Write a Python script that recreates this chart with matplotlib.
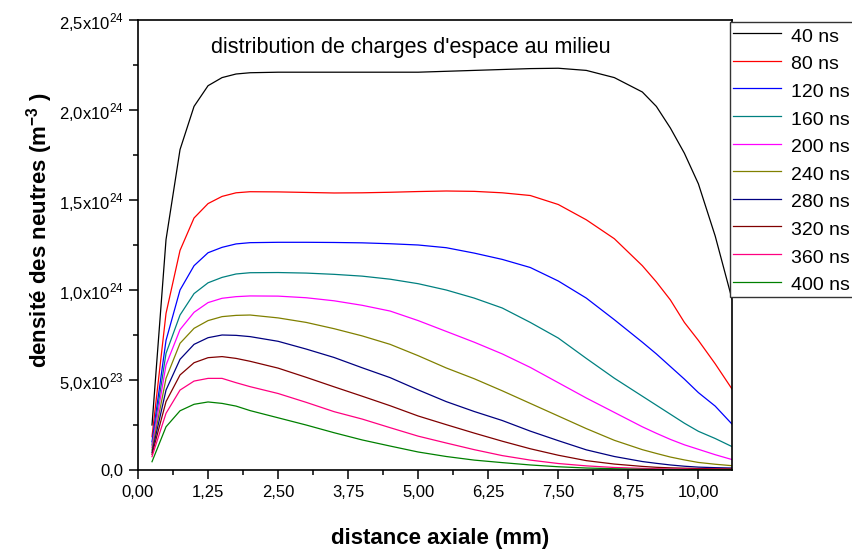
import numpy as np
import matplotlib
matplotlib.use("Agg")
import matplotlib.pyplot as plt
from matplotlib.ticker import MultipleLocator, FuncFormatter

# distance axiale (mm)
x_mm = [0.25, 0.5, 0.75, 1.0, 1.25, 1.5, 1.75, 2.0, 2.5, 3.0, 3.5, 4.0, 4.5,
        5.0, 5.5, 6.0, 6.5, 7.0, 7.5, 8.0, 8.5, 9.0, 9.25, 9.5, 9.75, 10.0, 10.3, 10.6]

# densité en unités de 1e24 m^-3
n_40 = [0.25, 1.28, 1.78, 2.02, 2.135, 2.18, 2.20, 2.207, 2.21, 2.21, 2.21, 2.21, 2.21,
        2.21, 2.215, 2.22, 2.225, 2.23, 2.232, 2.22, 2.18, 2.10, 2.02, 1.90, 1.76, 1.59, 1.30, 0.95]
n_80 = [0.185, 0.87, 1.22, 1.40, 1.48, 1.52, 1.54, 1.546, 1.545, 1.542, 1.539, 1.54, 1.543,
        1.547, 1.55, 1.548, 1.54, 1.525, 1.475, 1.39, 1.285, 1.135, 1.045, 0.945, 0.82, 0.72, 0.59, 0.45]
n_120 = [0.157, 0.72, 1.0, 1.135, 1.207, 1.237, 1.256, 1.263, 1.265, 1.265, 1.264, 1.262, 1.257,
         1.25, 1.235, 1.205, 1.17, 1.125, 1.05, 0.955, 0.835, 0.71, 0.645, 0.575, 0.505, 0.43, 0.355, 0.255]
n_160 = [0.139, 0.648, 0.861, 0.98, 1.04, 1.07, 1.089, 1.096, 1.097, 1.094, 1.087, 1.077, 1.06,
         1.035, 1.0, 0.955, 0.9, 0.82, 0.733, 0.62, 0.51, 0.41, 0.36, 0.31, 0.26, 0.215, 0.175, 0.13]
n_200 = [0.126, 0.583, 0.78, 0.876, 0.93, 0.954, 0.963, 0.967, 0.966, 0.957, 0.94, 0.915, 0.883,
         0.83, 0.77, 0.71, 0.645, 0.57, 0.485, 0.40, 0.32, 0.24, 0.204, 0.17, 0.14, 0.115, 0.085, 0.058]
n_240 = [0.111, 0.509, 0.704, 0.787, 0.83, 0.852, 0.859, 0.861, 0.845, 0.82, 0.785, 0.745, 0.698,
         0.635, 0.567, 0.507, 0.44, 0.37, 0.30, 0.23, 0.165, 0.113, 0.092, 0.072, 0.056, 0.042, 0.032, 0.024]
n_280 = [0.098, 0.444, 0.615, 0.698, 0.735, 0.75, 0.748, 0.741, 0.715, 0.672, 0.625, 0.568, 0.513,
         0.445, 0.38, 0.325, 0.275, 0.216, 0.163, 0.112, 0.075, 0.047, 0.037, 0.028, 0.021, 0.016, 0.013, 0.011]
n_320 = [0.087, 0.38, 0.528, 0.596, 0.624, 0.63, 0.62, 0.604, 0.566, 0.515, 0.462, 0.41, 0.357,
         0.30, 0.252, 0.205, 0.16, 0.118, 0.082, 0.052, 0.033, 0.02, 0.015, 0.012, 0.01, 0.008, 0.007, 0.006]
n_360 = [0.074, 0.315, 0.444, 0.494, 0.509, 0.509, 0.485, 0.463, 0.425, 0.376, 0.324, 0.283, 0.235,
         0.188, 0.15, 0.113, 0.08, 0.055, 0.036, 0.023, 0.014, 0.009, 0.007, 0.006, 0.005, 0.004, 0.004, 0.003]
n_400 = [0.046, 0.24, 0.329, 0.365, 0.378, 0.37, 0.355, 0.33, 0.29, 0.25, 0.207, 0.167, 0.133,
         0.10, 0.075, 0.055, 0.041, 0.028, 0.018, 0.011, 0.007, 0.004, 0.003, 0.003, 0.002, 0.002, 0.002, 0.002]

labels = ["40 ns", "80 ns", "120 ns", "160 ns", "200 ns",
          "240 ns", "280 ns", "320 ns", "360 ns", "400 ns"]
series = [n_40, n_80, n_120, n_160, n_200, n_240, n_280, n_320, n_360, n_400]
colors = ["#000000", "#FF0000", "#0000FF", "#008080", "#FF00FF",
          "#808000", "#000080", "#800000", "#FF0080", "#008000"]

plt.rcParams["font.family"] = ["Liberation Sans", "DejaVu Sans"]
plt.rcParams["mathtext.fontset"] = "custom"
plt.rcParams["mathtext.rm"] = "Liberation Sans"
plt.rcParams["mathtext.bf"] = "Liberation Sans:bold"

W, H = 853, 554
fig = plt.figure(figsize=(W / 100, H / 100), dpi=100)
ax = fig.add_axes([138 / W, 1 - 470 / H, (732 - 138) / W, 450 / H])

for y, c, lab in zip(series, colors, labels):
    ax.plot(x_mm, np.array(y) * 1e24, color=c, lw=0.9, label=lab)

ax.set_xlim(0, 10.6)
ax.set_ylim(0, 2.5e24)

ax.xaxis.set_major_locator(MultipleLocator(1.25))
ax.xaxis.set_minor_locator(MultipleLocator(0.625))
ax.yaxis.set_major_locator(MultipleLocator(0.5e24))
ax.yaxis.set_minor_locator(MultipleLocator(0.25e24))


def fmt_x(v, pos):
    return f"{v:.2f}".replace(".", ",")


def fmt_y(v, pos):
    if v < 1e20:
        return "0,0"
    e = int(np.floor(np.log10(v) + 1e-9))
    m = v / 10 ** e
    return f"{m:.1f}".replace(".", ",") + "x10$^{" + str(e) + "}$"


ax.xaxis.set_major_formatter(FuncFormatter(fmt_x))
ax.yaxis.set_major_formatter(FuncFormatter(fmt_y))

ax.tick_params(which="major", direction="out", length=6.5, width=1.1, labelsize=12, pad=4)
ax.tick_params(which="minor", direction="out", length=3.6, width=1.1)
ax.tick_params(top=False, right=False, which="both")
for s in ax.spines.values():
    s.set_linewidth(1.2)

ax.set_xlabel("distance axiale (mm)", fontsize=16, fontweight="bold")
ax.set_ylabel(r"densité des neutres (m$^{\mathbf{-3}}$ )", fontsize=16, fontweight="bold")
ax.xaxis.set_label_coords(0.508, -0.128)
ax.yaxis.set_label_coords(-0.14, 0.533)

ax.text((411 - 138) / 594, (470 - 47) / 450, "distribution de charges d'espace au milieu",
        transform=ax.transAxes, ha="center", va="center", fontsize=15.5)

leg = fig.legend(loc="upper left", bbox_to_anchor=(730 / W, 1 - 21.7 / H),
                 borderaxespad=0, frameon=True, fancybox=False, fontsize=14,
                 handlelength=2.47, handleheight=1.3, handletextpad=0.53,
                 borderpad=0.15, labelspacing=0.33, framealpha=1)
leg.get_frame().set_edgecolor("#333333")
leg.get_frame().set_linewidth(1.0)

fig.savefig("out.png", dpi=100)
